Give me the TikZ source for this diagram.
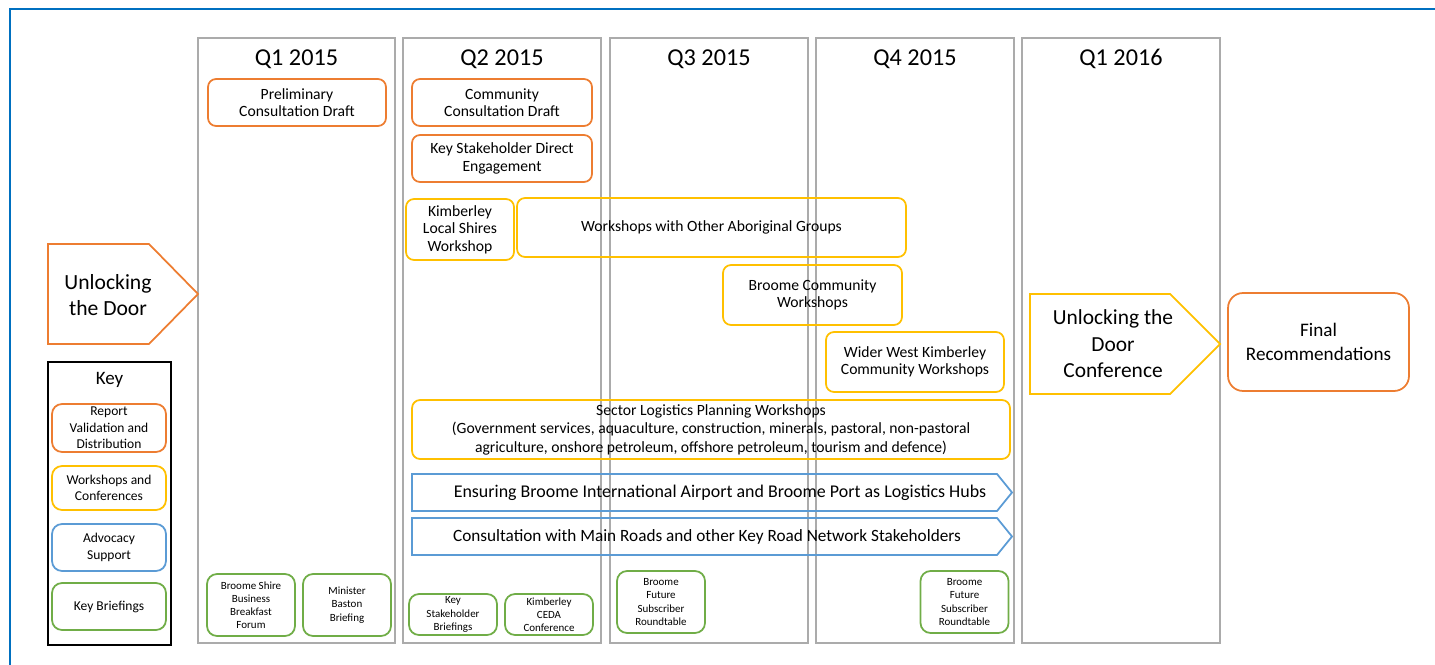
\documentclass[tikz,border=0pt]{standalone}
\usepackage{fontspec}
\setmainfont{Carlito}
\usepackage{tikz}
\definecolor{repcol}{HTML}{ED7D31}
\definecolor{wscol}{HTML}{FFC000}
\definecolor{advcol}{HTML}{5B9BD5}
\definecolor{brfcol}{HTML}{70AD47}
\definecolor{pancol}{HTML}{ABABAB}
\definecolor{framecol}{HTML}{0070C0}
\tikzset{
    panel/.style={draw=pancol, line width=1pt},
    qtitle/.style={font=\fontsize{13.8}{16}\selectfont},
    repbox/.style={draw=repcol, line width=1pt, rounded corners=0.16cm, align=center, inner sep=0pt, font=\fontsize{8.9}{10}\selectfont},
    wsbox/.style={draw=wscol, line width=1pt, rounded corners=0.16cm, align=center, inner sep=0pt, font=\fontsize{8.9}{10}\selectfont},
    brfbox/.style={draw=brfcol, line width=1pt, rounded corners=0.2cm, align=center, inner sep=0pt, minimum width=1.76cm, font=\fontsize{6.25}{7.5}\selectfont},
    keybox/.style={line width=1pt, rounded corners=0.2cm, align=center, inner sep=0pt, minimum width=2.28cm, font=\fontsize{7.7}{9.5}\selectfont},
    bigtext/.style={align=center, font=\fontsize{12.3}{14.6}\selectfont},
}
\begin{document}
\begin{tikzpicture}[x=0.02cm, y=-0.02cm]
    \useasboundingbox (0,0) rectangle (1435,665);
    \draw[framecol, line width=1.2pt] (10,665) -- (10,9) -- (1435,9);

    \draw[panel] (198,38) rectangle (395,643);
    \draw[panel] (403,38) rectangle (601,643);
    \draw[panel] (610,38) rectangle (808,643);
    \draw[panel] (816,38) rectangle (1014,643);
    \draw[panel] (1022,38) rectangle (1220,643);
    \node[qtitle] (q1a) at (296.5,59) {Q1 2015};
    \node[qtitle] (q2a) at (502,59) {Q2 2015};
    \node[qtitle] (q3a) at (709,59) {Q3 2015};
    \node[qtitle] (q4a) at (915,59) {Q4 2015};
    \node[qtitle] (q1b) at (1121,59) {Q1 2016};

    \node[repbox, minimum width=3.56cm, minimum height=0.94cm] (prelim) at (297,102.5) {Preliminary\\Consultation Draft};
    \node[repbox, minimum width=3.6cm, minimum height=0.94cm] (commdraft) at (502,102.5) {Community\\Consultation Draft};
    \node[repbox, minimum width=3.6cm, minimum height=0.94cm] (keydirect) at (502,158.5) {Key Stakeholder Direct\\Engagement};

    \node[wsbox, minimum width=2.16cm, minimum height=1.22cm] (shires) at (460,229.5) {Kimberley\\Local Shires\\Workshop};
    \node[wsbox, minimum width=7.78cm, minimum height=1.18cm] (aborig) at (711.5,227.5) {Workshops with Other Aboriginal Groups};
    \node[wsbox, minimum width=3.58cm, minimum height=1.2cm] (broomews) at (812.5,295) {Broome Community\\Workshops};
    \node[wsbox, minimum width=3.56cm, minimum height=1.2cm] (widerws) at (915,362) {Wider West Kimberley\\Community Workshops};
    \node[wsbox, minimum width=11.96cm, minimum height=1.18cm, font=\fontsize{8.9}{10.5}\selectfont] (sector) at (711,429.5) {Sector Logistics Planning Workshops\\(Government services, aquaculture, construction, minerals, pastoral, non-pastoral\\agriculture, onshore petroleum, offshore petroleum, tourism and defence)};

    \draw[advcol, line width=1pt] (412,474) -- (997,474) -- (1012,492.5) -- (997,511) -- (412,511) -- cycle;
    \node[font=\fontsize{10.2}{12}\selectfont] (airport) at (720,492.5) {Ensuring Broome International Airport and Broome Port as Logistics Hubs};
    \draw[advcol, line width=1pt] (412,518) -- (997,518) -- (1012,536.5) -- (997,555) -- (412,555) -- cycle;
    \node[font=\fontsize{9.8}{12}\selectfont] (roads) at (707,536.5) {Consultation with Main Roads and other Key Road Network Stakeholders};

    \node[brfbox, minimum height=1.24cm] (shirefor) at (251,605) {Broome Shire\\Business\\Breakfast\\Forum};
    \node[brfbox, minimum height=1.24cm] (baston) at (347,605) {Minister\\Baston\\Briefing};
    \node[brfbox, minimum height=0.82cm] (ksbrief) at (453,614.5) {Key\\Stakeholder\\Briefings};
    \node[brfbox, minimum height=0.82cm] (ceda) at (549,614.5) {Kimberley\\CEDA\\Conference};
    \node[brfbox, minimum height=1.24cm] (future1) at (661,602) {Broome\\Future\\Subscriber\\Roundtable};
    \node[brfbox, minimum height=1.24cm] (future2) at (964.5,602) {Broome\\Future\\Subscriber\\Roundtable};

    \draw[line width=1pt] (48,362) rectangle (171,645);
    \node[font=\fontsize{10.8}{13}\selectfont] (keyhead) at (109.5,380) {Key};
    \node[keybox, draw=repcol, minimum height=0.96cm] (keyrep) at (109,428) {Report\\Validation and\\Distribution};
    \node[keybox, draw=wscol, minimum height=0.88cm] (keyws) at (109,488) {Workshops and\\Conferences};
    \node[keybox, draw=advcol, minimum height=0.94cm] (keyadv) at (109,547.5) {Advocacy\\Support};
    \node[keybox, draw=brfcol, minimum height=0.94cm] (keybrf) at (109,606.5) {Key Briefings};

    \draw[repcol, line width=1pt] (48,244) -- (149,244) -- (198,294) -- (149,344) -- (48,344) -- cycle;
    \node[bigtext] (unlock) at (108,295) {Unlocking\\the Door};
    \draw[wscol, line width=1pt] (1030,294) -- (1170,294) -- (1220,344) -- (1170,394) -- (1030,394) -- cycle;
    \node[bigtext, font=\fontsize{12.2}{15.1}\selectfont] (conf) at (1113,344) {Unlocking the\\Door\\Conference};
    \node[draw=repcol, line width=1pt, rounded corners=0.3cm, minimum width=3.62cm, minimum height=1.96cm, inner sep=0pt, align=center, font=\fontsize{10.9}{13.8}\selectfont] (finalrec) at (1318.5,342) {Final\\Recommendations};
\end{tikzpicture}
\end{document}
